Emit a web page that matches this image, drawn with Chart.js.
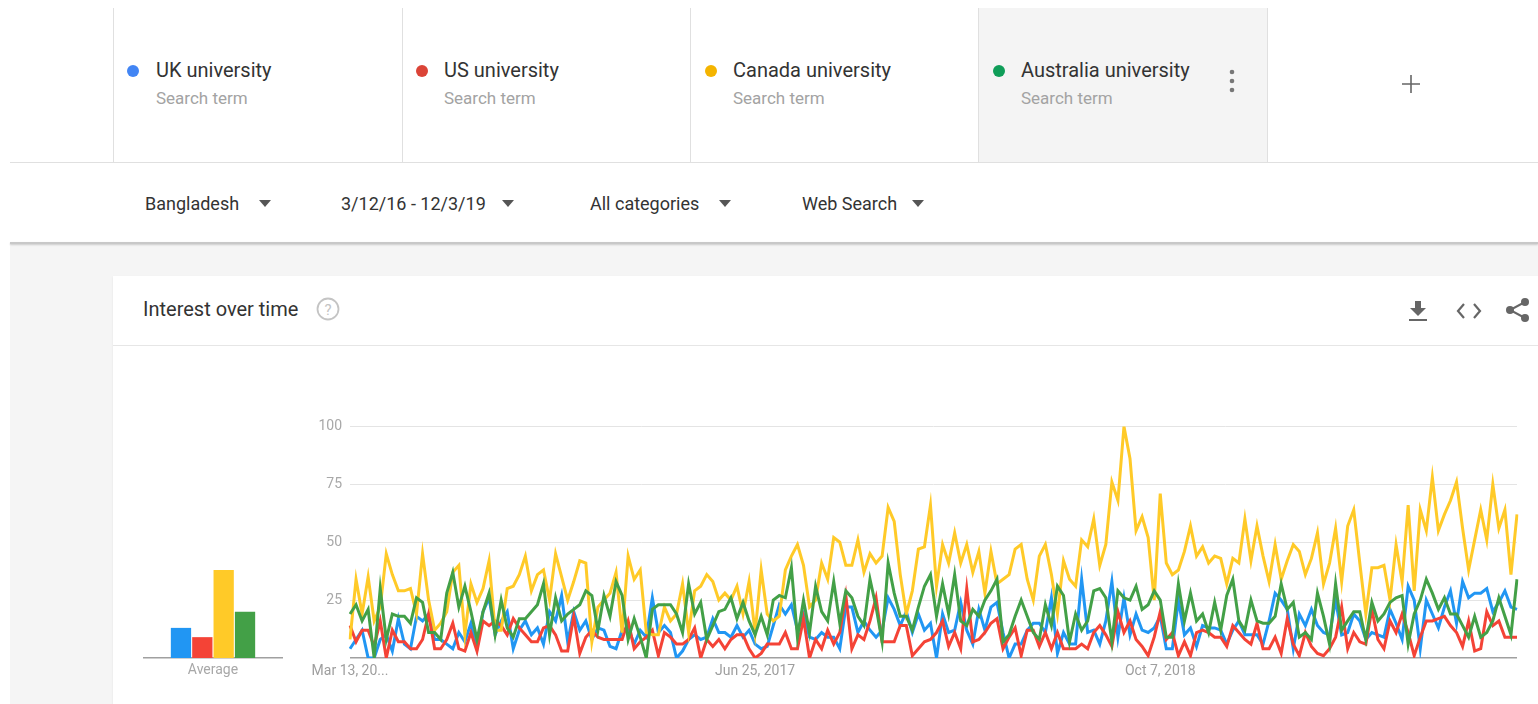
<!DOCTYPE html>
<html lang="en">
<head>
    <meta charset="UTF-8">
    <title>Interest over time</title>
    <script src="https://cdn.jsdelivr.net/npm/chart.js"></script>
    <style>
        body { margin: 0; width: 1538px; height: 704px; overflow: hidden; background: #fff; font-family: Roboto, "Noto Sans", sans-serif; position: relative; }
        .abs { position: absolute; }
        .term { position: absolute; top: 8px; width: 288px; height: 154px; border-left: 1px solid #e0e0e0; }
        .dot { position: absolute; width: 12px; height: 12px; border-radius: 50%; }
        .name { position: absolute; font-size: 20px; line-height: 24px; color: #333; white-space: nowrap; }
        .sub { position: absolute; font-size: 17px; line-height: 20px; color: #a3a3a3; white-space: nowrap; }
        .filter { position: absolute; top: 193px; font-size: 18px; line-height: 22px; color: #333; white-space: nowrap; }
        .tri { position: absolute; top: 200px; width: 0; height: 0; border-left: 6px solid transparent; border-right: 6px solid transparent; border-top: 7px solid #555; }
    </style>
</head>
<body>
    <!-- search terms -->
    <div class="term" style="left:113px"></div>
    <div class="term" style="left:402px"></div>
    <div class="term" style="left:690px"></div>
    <div class="term" style="left:978px; background:#f4f4f4; border-right:1px solid #e0e0e0;"></div>
    <div class="abs" style="left:10px; top:162px; width:1528px; height:1px; background:#e0e0e0"></div>

    <div class="dot" style="left:127px; top:65px; background:#4285f4"></div>
    <div class="name" style="left:156px; top:58px">UK university</div>
    <div class="sub" style="left:156px; top:88px">Search term</div>

    <div class="dot" style="left:416px; top:65px; background:#db4437"></div>
    <div class="name" style="left:444px; top:58px">US university</div>
    <div class="sub" style="left:444px; top:88px">Search term</div>

    <div class="dot" style="left:705px; top:65px; background:#f4b400"></div>
    <div class="name" style="left:733px; top:58px">Canada university</div>
    <div class="sub" style="left:733px; top:88px">Search term</div>

    <div class="dot" style="left:993px; top:65px; background:#0f9d58"></div>
    <div class="name" style="left:1021px; top:58px">Australia university</div>
    <div class="sub" style="left:1021px; top:88px">Search term</div>

    <svg class="abs" style="left:1226px; top:68px" width="12" height="26">
        <circle cx="6" cy="4" r="2.3" fill="#777"/>
        <circle cx="6" cy="13" r="2.3" fill="#777"/>
        <circle cx="6" cy="22" r="2.3" fill="#777"/>
    </svg>
    <svg class="abs" style="left:1401px; top:74px" width="20" height="20">
        <path d="M10 1 V19 M1 10 H19" stroke="#666" stroke-width="1.6"/>
    </svg>

    <!-- filters -->
    <div class="filter" style="left:145px">Bangladesh</div>
    <div class="tri" style="left:259px"></div>
    <div class="filter" style="left:341px">3/12/16 - 12/3/19</div>
    <div class="tri" style="left:502px"></div>
    <div class="filter" style="left:590px">All categories</div>
    <div class="tri" style="left:719px"></div>
    <div class="filter" style="left:802px">Web Search</div>
    <div class="tri" style="left:912px"></div>

    <!-- grey page + card -->
    <div class="abs" style="left:10px; top:244px; width:1528px; height:460px; background:#f5f5f5"></div>
    <div class="abs" style="left:10px; top:242px; width:1528px; height:2px; background:#c8c8c8; box-shadow:0 1px 2px rgba(0,0,0,.18)"></div>
    <div class="abs" style="left:113px; top:276px; width:1425px; height:428px; background:#fff; box-shadow:0 1px 2px rgba(0,0,0,.08)"></div>
    <div class="abs" style="left:143px; top:297px; font-size:20px; line-height:24px; color:#333">Interest over time</div>
    <svg class="abs" style="left:316px; top:297px" width="24" height="24">
        <circle cx="12" cy="12" r="10.5" fill="none" stroke="#c4c4c4" stroke-width="1.8"/>
        <text x="12" y="17.5" text-anchor="middle" font-family="Roboto" font-size="15" fill="#c4c4c4">?</text>
    </svg>
    <div class="abs" style="left:113px; top:345px; width:1425px; height:1px; background:#e6e6e6"></div>

    <!-- toolbar icons -->
    <svg class="abs" style="left:1408px; top:300px" width="20" height="22">
        <path d="M7 1 H13 V8 H18 L10 16 L2 8 H7 Z" fill="#666"/>
        <rect x="1" y="19" width="18" height="2" fill="#666"/>
    </svg>
    <svg class="abs" style="left:1456px; top:301px" width="26" height="20">
        <path d="M8 3 L2 10 L8 17 M18 3 L24 10 L18 17" fill="none" stroke="#666" stroke-width="2.2"/>
    </svg>
    <svg class="abs" style="left:1505px; top:297px" width="28" height="26">
        <path d="M20 5 L5 13 L20 21" fill="none" stroke="#666" stroke-width="2"/>
        <circle cx="20" cy="5" r="4" fill="#666"/>
        <circle cx="5" cy="13" r="4" fill="#666"/>
        <circle cx="20" cy="21" r="4" fill="#666"/>
    </svg>

    <canvas id="avgChart" class="abs" style="left:143px; top:519px" width="140" height="166"></canvas>
    <canvas id="trendChart" class="abs" style="left:300px; top:410px" width="1230" height="280"></canvas>

    <script>
        // series names and colours
        const terms = ['UK university', 'US university', 'Canada university', 'Australia university'];
        const lineColors = ['#2196f3', '#f44336', '#ffca28', '#43a047'];

        // weekly interest, Mar 13 2016 onwards (194 weeks)
        const ukValues = [
            4,8,12,0,0,8,10,3,17,6, 4,18,16,19,8,8,6,4,11,7, 15,4,20,26,10,16,20,4,12,16, 10,13,6,20,16,27,7,20,12,16, 8,13,
            12,5,4,12,13,6,12,9,26,11, 14,11,0,3,8,10,8,9,17,11, 11,9,14,9,12,6,4,5,14,23, 19,23,12,19,9,8,11,9,9,4, 22,22,11,16,12,9,12,26,
            21,14,20,11,19,12,15,0,19,11, 12,24,12,6,21,12,22,24,11,0, 6,6,12,15,15,11,26,2,11,6, 6,34,11,12,6,16,33,9,26,10, 19,12,11,13,18,4,4,25,10,13, 5,14,
            13,13,12,6,12,16,10,10,10,6, 16,28,25,21,4,19,14,21,14,11, 10,25,10,11,19,16,8,11,10,9, 21,15,8,31,25,4,25,19,13,22, 29,15,33,26,28,28,30,20,24,29, 22,21
        ];
        const usValues = [
            14,7,12,12,5,16,0,12,7,7, 4,4,8,19,4,4,8,15,4,3, 11,3,16,14,16,14,10,17,13,10, 7,7,13,14,10,3,3,18,2,9, 12,9,
            8,8,8,8,16,4,7,9,12,1, 11,9,6,6,8,13,0,8,5,8, 4,8,10,10,4,0,2,6,6,6, 11,4,4,17,0,8,4,12,6,11, 27,4,10,8,16,26,7,7,
            7,14,14,1,4,7,8,11,16,5, 11,4,30,7,8,11,15,17,4,9, 13,1,12,12,5,11,4,11,4,4, 4,6,4,11,14,10,5,20,11,16, 8,5,1,9,20,8,11,1,7,1, 11,12,
            11,9,9,5,14,11,8,6,15,4, 4,9,2,17,6,1,11,5,2,1, 4,9,22,4,11,7,6,21,8,4, 16,11,19,11,1,9,16,16,17,18, 14,11,5,16,3,4,20,14,16,9, 9,9
        ];
        const canadaValues = [
            8,34,19,35,16,22,45,36,29,29, 30,19,45,25,12,15,20,37,40,10, 32,24,30,42,12,12,30,31,36,44, 29,36,38,25,45,35,25,33,42,41, 7,22,
            25,28,37,11,44,34,38,11,10,10, 22,16,19,32,11,29,31,36,33,25, 28,25,31,19,33,11,38,19,16,18, 38,44,49,40,22,25,41,34,52,50, 40,40,51,37,45,41,44,65,
            59,36,19,29,47,48,66,31,49,41, 54,41,49,37,46,28,46,32,34,36, 47,49,34,25,44,49,36,19,42,34, 31,51,48,60,40,49,76,68,100,86, 55,61,52,25,71,41,36,38,46,57, 44,48,
            41,44,43,32,43,41,60,42,57,44, 33,49,34,42,49,46,36,43,54,32, 41,56,33,57,64,41,19,39,39,40, 25,49,33,66,29,64,55,78,55,62, 68,76,56,38,51,64,51,75,56,64, 36,62
        ];
        const australiaValues = [
            19,23,16,21,0,30,8,19,18,18, 15,26,24,11,11,8,28,37,22,31, 20,8,20,28,10,25,13,9,17,17, 20,23,32,10,26,16,19,21,23,29, 27,12,
            27,18,33,27,8,17,9,0,21,23, 23,23,19,11,32,19,24,8,14,20, 21,26,17,24,16,10,18,10,25,27, 26,39,9,25,11,31,20,16,33,15, 29,26,18,14,34,22,7,41,
            28,18,18,12,22,31,36,18,32,19, 36,16,14,21,18,25,29,34,7,10, 18,25,18,11,8,23,14,31,27,7, 19,12,16,29,30,26,7,29,26,25, 31,21,23,29,25,9,9,32,16,28, 16,19,
            11,24,12,27,34,16,12,25,16,15, 15,18,32,21,24,9,11,8,28,18, 6,32,12,16,20,20,8,24,16,19, 24,26,27,6,19,25,34,28,21,26, 19,19,14,9,18,9,11,16,26,18, 10,34
        ];
        const averages = [13, 9, 38, 20];

        // x axis: only three dates are labelled
        const tickIndex = [0, 67, 134];
        const tickText = ['Mar 13, 20...', 'Jun 25, 2017', 'Oct 7, 2018'];

        const weeks = [];
        const start = new Date(2016, 2, 13);
        for (let i = 0; i < ukValues.length; i++) {
            const d = new Date(start.getTime() + i * 7 * 86400000);
            weeks.push(d.toDateString());
        }

        const seriesValues = [ukValues, usValues, canadaValues, australiaValues];
        const axisFont = { family: 'Roboto', size: 14 };

        // main line chart
        new Chart(document.getElementById('trendChart'), {
            type: 'line',
            data: {
                labels: weeks,
                datasets: seriesValues.map((vals, k) => ({
                    label: terms[k],
                    data: vals,
                    borderColor: lineColors[k],
                    borderWidth: 3,
                    pointRadius: 0,
                    tension: 0,
                    fill: false,
                    order: 3 - k
                }))
            },
            options: {
                responsive: false,
                animation: false,
                devicePixelRatio: 1,
                layout: { padding: { top: 16, right: 13, left: 0, bottom: 0 } },
                plugins: { legend: { display: false }, tooltip: { enabled: false } },
                scales: {
                    x: {
                        offset: false,
                        grid: { display: false, drawTicks: false },
                        border: { display: false },
                        ticks: {
                            autoSkip: false,
                            maxRotation: 0,
                            color: '#9e9e9e',
                            font: axisFont,
                            padding: 5,
                            callback: (v, i) => {
                                const pos = tickIndex.indexOf(i);
                                return pos >= 0 ? tickText[pos] : '';
                            }
                        },
                        afterFit: scale => { scale.height = 32; }
                    },
                    y: {
                        min: 0,
                        max: 100,
                        border: { display: false },
                        grid: {
                            drawTicks: false,
                            color: ctx => ctx.tick.value === 0 ? '#a0a0a0' : '#e4e4e4',
                            lineWidth: ctx => ctx.tick.value === 0 ? 1.5 : 1
                        },
                        ticks: {
                            stepSize: 25,
                            color: '#a8a8a8',
                            font: axisFont,
                            padding: 8,
                            callback: v => v === 0 ? '' : v
                        },
                        afterFit: scale => { scale.width = 50; }
                    }
                }
            }
        });

        // small average bars
        new Chart(document.getElementById('avgChart'), {
            type: 'bar',
            data: {
                labels: ['Average'],
                datasets: averages.map((v, k) => ({
                    label: terms[k],
                    data: [v],
                    backgroundColor: lineColors[k],
                    categoryPercentage: 0.61,
                    barPercentage: 0.95
                }))
            },
            options: {
                responsive: false,
                animation: false,
                devicePixelRatio: 1,
                plugins: { legend: { display: false }, tooltip: { enabled: false } },
                scales: {
                    x: {
                        grid: { display: false, drawTicks: false },
                        border: { display: true, color: '#a0a0a0', width: 1.5 },
                        ticks: { color: '#a8a8a8', font: axisFont, padding: 4 },
                        afterFit: scale => { scale.height = 27; }
                    },
                    y: { display: false, min: 0, max: 60 }
                }
            }
        });
    </script>
</body>
</html>
